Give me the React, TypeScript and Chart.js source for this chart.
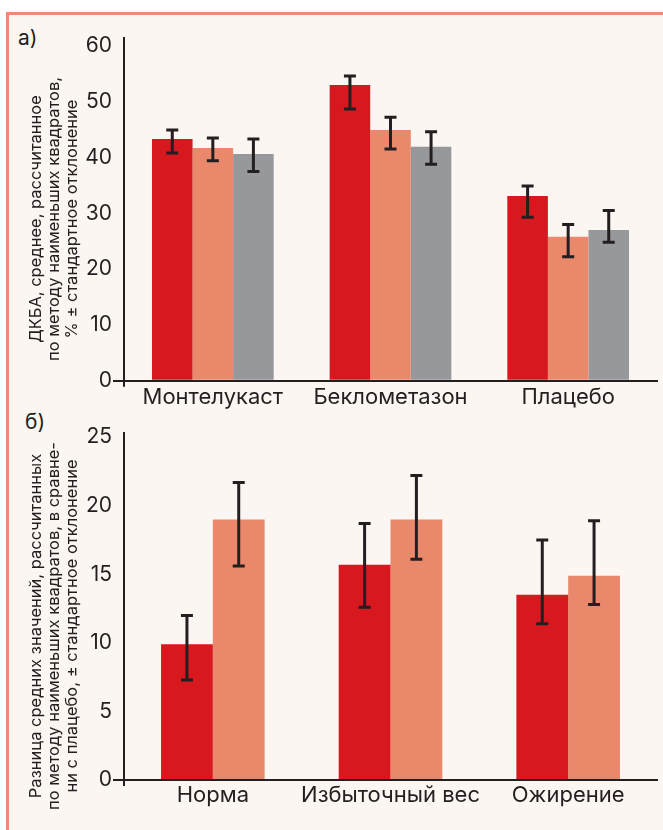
import React, { useEffect, useRef } from 'react';
import { Chart, registerables } from 'chart.js';

Chart.register(...registerables);

// ---- Panel a) data ----
const drugCategories = ['Монтелукаст', 'Беклометазон', 'Плацебо'];
const drugSeries1 = [43.3, 53.0, 33.1];
const drugSeries1Low = [40.8, 48.7, 29.3];
const drugSeries1High = [44.9, 54.6, 34.9];
const drugSeries2 = [41.7, 44.9, 25.8];
const drugSeries2Low = [39.4, 41.5, 22.2];
const drugSeries2High = [43.5, 47.2, 28.0];
const drugSeries3 = [40.6, 41.9, 27.0];
const drugSeries3Low = [37.5, 38.8, 24.8];
const drugSeries3High = [43.3, 44.6, 30.5];
const drugTicks = [0, 10, 20, 30, 40, 50, 60];
const drugAxisMax = 61.4;
const drugTitle = [
  'ДКБА, среднее, рассчитанное',
  'по методу наименьших квадратов,',
  '% ± стандартное отклонение',
];

// ---- Panel б) data ----
const weightCategories = ['Норма', 'Избыточный вес', 'Ожирение'];
const weightSeries1 = [9.9, 15.7, 13.5];
const weightSeries1Low = [7.3, 12.6, 11.4];
const weightSeries1High = [12.0, 18.7, 17.5];
const weightSeries2 = [19.0, 19.0, 14.9];
const weightSeries2Low = [15.6, 16.1, 12.8];
const weightSeries2High = [21.7, 22.2, 18.9];
const weightTicks = [0, 5, 10, 15, 20, 25];
const weightAxisMax = 25.3;
const weightTitle = [
  'Разница средних значений, рассчитанных',
  'по методу наименьших квадратов, в сравне-',
  'ни с плацебо, ± стандартное отклонение',
];

const RED = '#D7181F';
const SALMON = '#EA886B';
const GRAY = '#97989B';
const DARK = '#231F20';
const BG = '#FBF6F2';
const FONT = "Inter, 'Liberation Sans', Arial, sans-serif";
const TRANSPARENT = 'rgba(0,0,0,0)';

const errorBarPlugin = {
  id: 'errorBars',
  afterDatasetsDraw(chart: any) {
    const { ctx } = chart;
    const yScale = chart.scales.y;
    chart.data.datasets.forEach((ds: any, di: number) => {
      if (!ds.errLow) return;
      const meta = chart.getDatasetMeta(di);
      ctx.save();
      ctx.strokeStyle = DARK;
      ctx.lineWidth = 3;
      meta.data.forEach((bar: any, i: number) => {
        const x = bar.x;
        const yl = yScale.getPixelForValue(ds.errLow[i]);
        const yh = yScale.getPixelForValue(ds.errHigh[i]);
        ctx.beginPath();
        ctx.moveTo(x, yl);
        ctx.lineTo(x, yh);
        ctx.moveTo(x - 6, yl);
        ctx.lineTo(x + 6, yl);
        ctx.moveTo(x - 6, yh);
        ctx.lineTo(x + 6, yh);
        ctx.stroke();
      });
      ctx.restore();
    });
  },
};

// Rotated multi-line axis title drawn left of the y axis
const sideTitlePlugin = {
  id: 'sideTitle',
  afterDraw(chart: any, _args: any, opts: any) {
    if (!opts || !opts.lines) return;
    const { ctx } = chart;
    ctx.save();
    ctx.font = `${opts.size}px ${FONT}`;
    ctx.fillStyle = DARK;
    ctx.textAlign = 'center';
    ctx.textBaseline = 'middle';
    opts.lines.forEach((line: string, i: number) => {
      ctx.save();
      ctx.translate(opts.x + i * opts.lineHeight, opts.y);
      ctx.rotate(-Math.PI / 2);
      ctx.fillText(line, 0, 0);
      ctx.restore();
    });
    ctx.restore();
  },
};

type PanelProps = {
  top: number;
  height: number;
  categories: string[];
  datasets: any[];
  max: number;
  ticks: number[];
  title: string[];
  titleY: number;
  padTop: number;
  xHeight: number;
  catPct: number;
  xLabelPad: number;
};

function BarPanel(p: PanelProps) {
  const ref = useRef<HTMLCanvasElement | null>(null);
  useEffect(() => {
    if (!ref.current) return;
    const chart = new Chart(ref.current, {
      type: 'bar',
      data: { labels: p.categories, datasets: p.datasets },
      plugins: [errorBarPlugin, sideTitlePlugin],
      options: {
        animation: false,
        responsive: false,
        maintainAspectRatio: false,
        layout: { padding: { left: 26, right: 6, top: p.padTop, bottom: 0 } },
        plugins: {
          legend: { display: false },
          tooltip: { enabled: false },
          title: { display: false },
          sideTitle: { lines: p.title, x: 36, y: p.titleY, lineHeight: 18, size: 16.5 },
        } as any,
        datasets: { bar: { categoryPercentage: p.catPct, barPercentage: 1 } } as any,
        scales: {
          x: {
            type: 'category',
            offset: true,
            border: { display: true, color: DARK, width: 2 },
            grid: {
              display: true,
              drawOnChartArea: false,
              drawTicks: true,
              tickLength: 6,
              offset: true,
              lineWidth: 2,
              color: (c: any) => (c.type === 'tick' && c.index === 0 ? DARK : TRANSPARENT),
            },
            ticks: {
              color: DARK,
              font: { family: FONT, size: 22 },
              padding: p.xLabelPad,
              maxRotation: 0,
              autoSkip: false,
            },
            afterFit: (s: any) => {
              s.height = p.xHeight;
            },
          },
          y: {
            min: 0,
            max: p.max,
            border: { display: true, color: DARK, width: 2 },
            grid: {
              display: true,
              drawOnChartArea: false,
              drawTicks: true,
              tickLength: 11,
              lineWidth: 2,
              color: (c: any) => (c.tick && c.tick.value === 0 ? DARK : TRANSPARENT),
            },
            ticks: {
              color: DARK,
              font: { family: FONT, size: 21 },
              padding: 1,
            },
            afterBuildTicks: (s: any) => {
              s.ticks = p.ticks.map((v) => ({ value: v }));
            },
            afterFit: (s: any) => {
              s.width = 98;
            },
          },
        },
      } as any,
    });
    return () => chart.destroy();
  }, []);
  return (
    <canvas
      ref={ref}
      width={663}
      height={p.height}
      style={{ position: 'absolute', left: 0, top: p.top, width: 663, height: p.height }}
    />
  );
}

export default function App() {
  const drugDatasets = [
    { label: 's1', data: drugSeries1, errLow: drugSeries1Low, errHigh: drugSeries1High, backgroundColor: RED },
    { label: 's2', data: drugSeries2, errLow: drugSeries2Low, errHigh: drugSeries2High, backgroundColor: SALMON },
    { label: 's3', data: drugSeries3, errLow: drugSeries3Low, errHigh: drugSeries3High, backgroundColor: GRAY },
  ];
  const weightDatasets = [
    { label: 's1', data: weightSeries1, errLow: weightSeries1Low, errHigh: weightSeries1High, backgroundColor: RED },
    { label: 's2', data: weightSeries2, errLow: weightSeries2Low, errHigh: weightSeries2High, backgroundColor: SALMON },
  ];
  const labelStyle: React.CSSProperties = {
    position: 'absolute',
    fontFamily: FONT,
    fontSize: 21,
    lineHeight: '22px',
    color: DARK,
  };
  return (
    <div style={{ position: 'absolute', left: 0, top: 0, width: 663, height: 830, overflow: 'hidden', background: '#ffffff' }}>
      <div
        style={{
          position: 'absolute',
          left: 6,
          top: 12,
          width: 720,
          height: 900,
          boxSizing: 'border-box',
          border: '3px solid #EE8B72',
          background: BG,
        }}
      />
      <span style={{ ...labelStyle, left: 18, top: 27 }}>а)</span>
      <span style={{ ...labelStyle, left: 25, top: 411 }}>б)</span>
      <BarPanel
        top={0}
        height={410}
        categories={drugCategories}
        datasets={drugDatasets}
        max={drugAxisMax}
        ticks={drugTicks}
        title={drugTitle}
        titleY={219}
        padTop={38}
        xHeight={29.3}
        catPct={0.685}
        xLabelPad={-3}
      />
      <BarPanel
        top={405}
        height={425}
        categories={weightCategories}
        datasets={weightDatasets}
        max={weightAxisMax}
        ticks={weightTicks}
        title={weightTitle}
        titleY={221}
        padTop={28}
        xHeight={50}
        catPct={0.583}
        xLabelPad={-4}
      />
    </div>
  );
}
